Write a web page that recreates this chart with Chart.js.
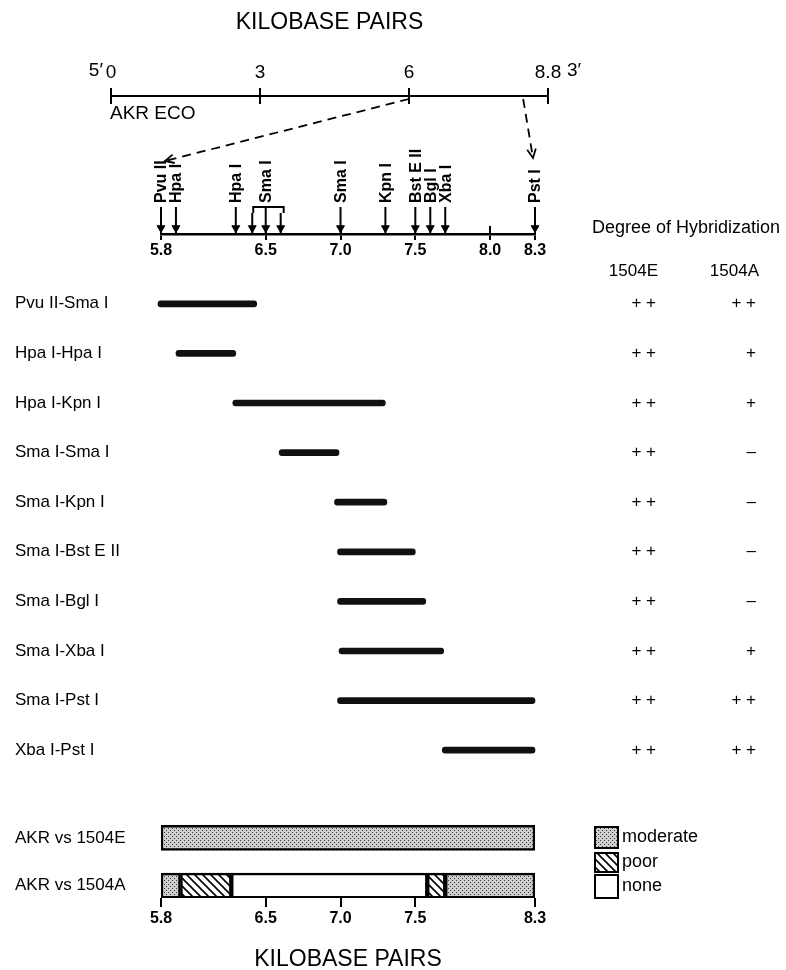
<!DOCTYPE html>
<html lang="en">
<head>
<meta charset="UTF-8">
<title>AKR ECO restriction map and hybridization</title>
<script src="https://cdn.jsdelivr.net/npm/chart.js"></script>
<style>
    body { margin: 0; background: #fff; }
    #wrap { position: relative; width: 786px; height: 970px; }
    #wrap canvas { position: absolute; left: 0; top: 0; }
</style>
</head>
<body>
<div id="wrap">
    <canvas id="genome" width="786" height="970"></canvas>
    <canvas id="map" width="786" height="970"></canvas>
    <canvas id="frags" width="786" height="970"></canvas>
    <canvas id="hyb" width="786" height="970"></canvas>
</div>

<script>
    // whole genome axis (kb)
    const genomeTicks = [0, 3, 6, 8.8];
    const zoomFrom = [6, 8.3];      // kb on the genome axis
    const zoomTo = [5.8, 8.3];      // kb on the expanded map

    // restriction sites on the expanded map
    const siteLabels = ['Pvu II', 'Hpa I', 'Hpa I', '', 'Sma I', '', 'Sma I', 'Kpn I', 'Bst E II', 'Bgl I', 'Xba I', 'Pst I'];
    const sitePos = [5.8, 5.9, 6.3, 6.41, 6.5, 6.6, 7.0, 7.3, 7.5, 7.6, 7.7, 8.3];
    const smaGroup = [6.41, 6.6];
    const mapTicks = [5.8, 6.5, 7.0, 7.5, 8.0, 8.3];

    // probe fragments
    const fragments = ['Pvu II-Sma I', 'Hpa I-Hpa I', 'Hpa I-Kpn I', 'Sma I-Sma I', 'Sma I-Kpn I',
        'Sma I-Bst E II', 'Sma I-Bgl I', 'Sma I-Xba I', 'Sma I-Pst I', 'Xba I-Pst I'];
    const fragStart = [5.78, 5.9, 6.28, 6.59, 6.96, 6.98, 6.98, 6.99, 6.98, 7.68];
    const fragEnd = [6.44, 6.3, 7.3, 6.99, 7.31, 7.5, 7.57, 7.69, 8.3, 8.3];
    const hyb1504E = ['+ +', '+ +', '+ +', '+ +', '+ +', '+ +', '+ +', '+ +', '+ +', '+ +'];
    const hyb1504A = ['+ +', '+', '+', '\u2013', '\u2013', '\u2013', '\u2013', '+', '+ +', '+ +'];

    // summary bars
    const hybRows = ['AKR vs 1504E', 'AKR vs 1504A'];
    const segRow = [0, 1, 1, 1, 1, 1];
    const segStart = [5.8, 5.8, 5.93, 6.27, 7.58, 7.7];
    const segEnd = [8.3, 5.93, 6.27, 7.58, 7.7, 8.3];
    const segClass = ['moderate', 'moderate', 'poor', 'none', 'poor', 'moderate'];
    const hybTicks = [5.8, 6.5, 7.0, 7.5, 8.3];
    const classes = ['moderate', 'poor', 'none'];

    const SANS = '"Liberation Sans", Arial, sans-serif';
    Chart.defaults.animation = false;
    Chart.defaults.color = '#000';
    Chart.defaults.plugins.legend.display = false;
    Chart.defaults.plugins.tooltip.enabled = false;

    function stipple() {
        const c = document.createElement('canvas');
        c.width = 4; c.height = 4;
        const g = c.getContext('2d');
        g.fillStyle = '#cdcdcd';
        g.fillRect(0, 0, 4, 4);
        g.fillStyle = '#3a3a3a';
        g.fillRect(0, 0, 1, 1);
        g.fillRect(2, 2, 1, 1);
        return g.createPattern(c, 'repeat');
    }
    function hatch() {
        const c = document.createElement('canvas');
        c.width = 8; c.height = 8;
        const g = c.getContext('2d');
        g.fillStyle = '#fff';
        g.fillRect(0, 0, 8, 8);
        g.strokeStyle = '#000';
        g.lineWidth = 1.6;
        for (let k = -8; k <= 8; k += 8) {
            g.beginPath();
            g.moveTo(-1, -1 + k);
            g.lineTo(9, 9 + k);
            g.stroke();
        }
        return g.createPattern(c, 'repeat');
    }
    const fills = { moderate: stipple(), poor: hatch(), none: '#fff' };

    // ---------- genome axis ----------
    const genomePlugin = {
        id: 'genomeText',
        afterDraw(chart) {
            const ctx = chart.ctx, a = chart.chartArea, x = chart.scales.x;
            ctx.save();
            ctx.fillStyle = '#000';
            ctx.font = '19px ' + SANS;
            ctx.textBaseline = 'middle';
            ctx.textAlign = 'right';
            ctx.fillText('5\u2032', x.getPixelForValue(genomeTicks[0]) - 8, 71);
            ctx.textAlign = 'left';
            ctx.fillText('3\u2032', x.getPixelForValue(genomeTicks[genomeTicks.length - 1]) + 19, 71);
            ctx.font = '19px ' + SANS;
            ctx.fillText('AKR ECO', a.left - 1, 114);
            ctx.restore();
        }
    };
    const genomeChart = new Chart(document.getElementById('genome'), {
        type: 'scatter',
        data: { datasets: [] },
        options: {
            responsive: false,
            layout: { padding: { left: 111, right: 238, top: 0, bottom: 866 } },
            scales: {
                x: {
                    type: 'linear', position: 'top', min: 0, max: 8.8,
                    afterBuildTicks: s => { s.ticks = genomeTicks.map(v => ({ value: v })); },
                    afterFit: s => { s.height = 96; },
                    ticks: { font: { size: 19, family: SANS }, padding: 4, maxRotation: 0, autoSkip: false },
                    grid: { color: '#000', lineWidth: 2, tickLength: 8, drawOnChartArea: true },
                    border: { display: true, color: '#000', width: 2 },
                    title: { display: true, text: 'KILOBASE PAIRS', font: { size: 23, family: SANS }, padding: { top: 9, bottom: 0 } }
                },
                y: { display: false, min: 0, max: 1 }
            }
        },
        plugins: [genomePlugin]
    });

    // ---------- expanded restriction map ----------
    const SHAFT_TOP = 207, SHAFT_TOP_SHORT = 213, AXIS_Y = 234;
    const inGroup = p => p === smaGroup[0] || p === smaGroup[1];
    const shaftData = sitePos.map(p => ({ x: p, y: AXIS_Y - ((inGroup(p) ? SHAFT_TOP_SHORT : SHAFT_TOP) + AXIS_Y) / 2 }));
    const shaftRadius = sitePos.map(p => (AXIS_Y - (inGroup(p) ? SHAFT_TOP_SHORT : SHAFT_TOP)) / 2);

    function arrowHead(ctx, x0, y0, x1, y1) {
        const ang = Math.atan2(y1 - y0, x1 - x0), L = 10, w = 0.45;
        ctx.beginPath();
        ctx.moveTo(x1 - L * Math.cos(ang - w), y1 - L * Math.sin(ang - w));
        ctx.lineTo(x1, y1);
        ctx.lineTo(x1 - L * Math.cos(ang + w), y1 - L * Math.sin(ang + w));
        ctx.stroke();
    }

    const mapPlugin = {
        id: 'mapText',
        afterDatasetsDraw(chart) {
            const ctx = chart.ctx, x = chart.scales.x, gx = genomeChart.scales.x;
            ctx.save();
            ctx.fillStyle = '#000';
            ctx.strokeStyle = '#000';
            ctx.font = 'bold 16px ' + SANS;
            ctx.textAlign = 'left';
            ctx.textBaseline = 'middle';
            siteLabels.forEach((t, i) => {
                if (!t) return;
                ctx.save();
                ctx.translate(x.getPixelForValue(sitePos[i]) + 1, 203);
                ctx.rotate(-Math.PI / 2);
                ctx.fillText(t, 0, 0);
                ctx.restore();
            });
            // bracket over the Sma I cluster
            const b0 = x.getPixelForValue(smaGroup[0]) + 1, b1 = x.getPixelForValue(smaGroup[1]) + 3;
            ctx.lineWidth = 2;
            ctx.beginPath();
            ctx.moveTo(b0, SHAFT_TOP_SHORT);
            ctx.lineTo(b0, SHAFT_TOP);
            ctx.lineTo(b1, SHAFT_TOP);
            ctx.lineTo(b1, SHAFT_TOP_SHORT);
            ctx.stroke();
            // dashed zoom lines from the genome axis
            ctx.lineWidth = 1.8;
            const ends = [[x.getPixelForValue(zoomTo[0]) + 4, 161], [x.getPixelForValue(zoomTo[1]) - 2, 158]];
            zoomFrom.forEach((v, i) => {
                const sx = gx.getPixelForValue(v), sy = 99;
                ctx.setLineDash([9, 6]);
                ctx.beginPath();
                ctx.moveTo(sx, sy);
                ctx.lineTo(ends[i][0], ends[i][1]);
                ctx.stroke();
                ctx.setLineDash([]);
                arrowHead(ctx, sx, sy, ends[i][0], ends[i][1]);
            });
            ctx.restore();
        }
    };
    const mapChart = new Chart(document.getElementById('map'), {
        type: 'scatter',
        data: {
            datasets: [
                {
                    data: shaftData, pointStyle: 'line', rotation: 90,
                    pointRadius: shaftRadius, borderColor: '#000', borderWidth: 2
                },
                {
                    data: sitePos.map(p => ({ x: p, y: 6 })), pointStyle: 'triangle', rotation: 180,
                    pointRadius: 4.5, backgroundColor: '#000', borderColor: '#000', borderWidth: 1
                }
            ]
        },
        options: {
            responsive: false,
            clip: false,
            layout: { padding: { left: 161, right: 251, top: 226, bottom: 0 } },
            scales: {
                x: {
                    type: 'linear', position: 'bottom', min: 5.8, max: 8.3,
                    afterBuildTicks: s => { s.ticks = mapTicks.map(v => ({ value: v })); },
                    afterFit: s => { s.height = 736; },
                    ticks: { font: { size: 16, weight: 'bold', family: SANS }, padding: 1, maxRotation: 0, autoSkip: false,
                        callback: v => v.toFixed(1) },
                    grid: { color: '#000', lineWidth: 2, tickLength: 6, drawOnChartArea: true },
                    border: { display: true, color: '#000', width: 2.5 }
                },
                y: { display: false, min: 0, max: 8 }
            }
        },
        plugins: [mapPlugin]
    });

    // ---------- probe fragments ----------
    const fragPlugin = {
        id: 'fragText',
        afterDatasetsDraw(chart) {
            const ctx = chart.ctx, y = chart.scales.y;
            ctx.save();
            ctx.fillStyle = '#000';
            ctx.textBaseline = 'middle';
            ctx.textAlign = 'center';
            ctx.font = '18px ' + SANS;
            ctx.fillText('Degree of Hybridization', 686, 228);
            ctx.textAlign = 'right';
            ctx.font = '17px ' + SANS;
            ctx.fillText('1504E', 658, 271);
            ctx.fillText('1504A', 759, 271);
            fragments.forEach((f, i) => {
                const py = y.getPixelForValue(i);
                ctx.fillText(hyb1504E[i], 656, py);
                ctx.fillText(hyb1504A[i], 756, py);
            });
            ctx.restore();
        }
    };
    new Chart(document.getElementById('frags'), {
        type: 'bar',
        data: {
            labels: fragments,
            datasets: [{
                data: fragStart.map((s, i) => [s, fragEnd[i]]),
                backgroundColor: '#111', borderWidth: 0, borderRadius: 3, borderSkipped: false,
                barThickness: 6, clip: false
            }]
        },
        options: {
            responsive: false,
            indexAxis: 'y',
            layout: { padding: { left: 15, right: 251, top: 279, bottom: 195 } },
            scales: {
                x: { display: false, min: 5.8, max: 8.3 },
                y: {
                    afterFit: s => { s.width = 146; },
                    ticks: { crossAlign: 'far', font: { size: 17, family: SANS }, padding: 0 },
                    grid: { display: false },
                    border: { display: false }
                }
            }
        },
        plugins: [fragPlugin]
    });

    // ---------- hybridization summary ----------
    const legendPlugin = {
        id: 'hybLegend',
        afterDraw(chart) {
            const ctx = chart.ctx;
            ctx.save();
            ctx.font = '18px ' + SANS;
            ctx.textBaseline = 'middle';
            const tops = [827, 853, 875], hs = [21, 19, 23];
            classes.forEach((c, i) => {
                ctx.fillStyle = fills[c];
                ctx.fillRect(595, tops[i], 23, hs[i]);
                ctx.strokeStyle = '#000';
                ctx.lineWidth = 2;
                ctx.strokeRect(595, tops[i], 23, hs[i]);
                ctx.fillStyle = '#000';
                ctx.fillText(c, 622, tops[i] + hs[i] / 2);
            });
            ctx.restore();
        }
    };
    new Chart(document.getElementById('hyb'), {
        type: 'bar',
        data: {
            datasets: segClass.map((c, i) => ({
                data: [{ x: [segStart[i], segEnd[i]], y: segRow[i] }],
                backgroundColor: fills[c], borderColor: '#000', borderWidth: 2.5, borderSkipped: false,
                barThickness: 25, grouped: false
            }))
        },
        options: {
            responsive: false,
            indexAxis: 'y',
            layout: { padding: { left: 15, right: 251, top: 814, bottom: 0 } },
            scales: {
                x: {
                    type: 'linear', position: 'bottom', min: 5.8, max: 8.3,
                    afterBuildTicks: s => { s.ticks = hybTicks.map(v => ({ value: v })); },
                    afterFit: s => { s.height = 72; },
                    ticks: { font: { size: 16, weight: 'bold', family: SANS }, padding: 2, maxRotation: 0, autoSkip: false,
                        callback: v => v.toFixed(1) },
                    grid: { color: '#000', lineWidth: 2, tickLength: 9, drawOnChartArea: false },
                    border: { display: false },
                    title: { display: true, text: 'KILOBASE PAIRS', font: { size: 23, family: SANS }, padding: { top: 10, bottom: -3 } }
                },
                y: {
                    type: 'linear', reverse: true, min: -0.5, max: 1.26, offset: false,
                    afterBuildTicks: s => { s.ticks = hybRows.map((r, i) => ({ value: i })); },
                    afterFit: s => { s.width = 146; },
                    ticks: { crossAlign: 'far', font: { size: 17, family: SANS }, padding: 0, callback: v => hybRows[v] },
                    grid: { display: false },
                    border: { display: false }
                }
            }
        },
        plugins: [legendPlugin]
    });
</script>
</body>
</html>
